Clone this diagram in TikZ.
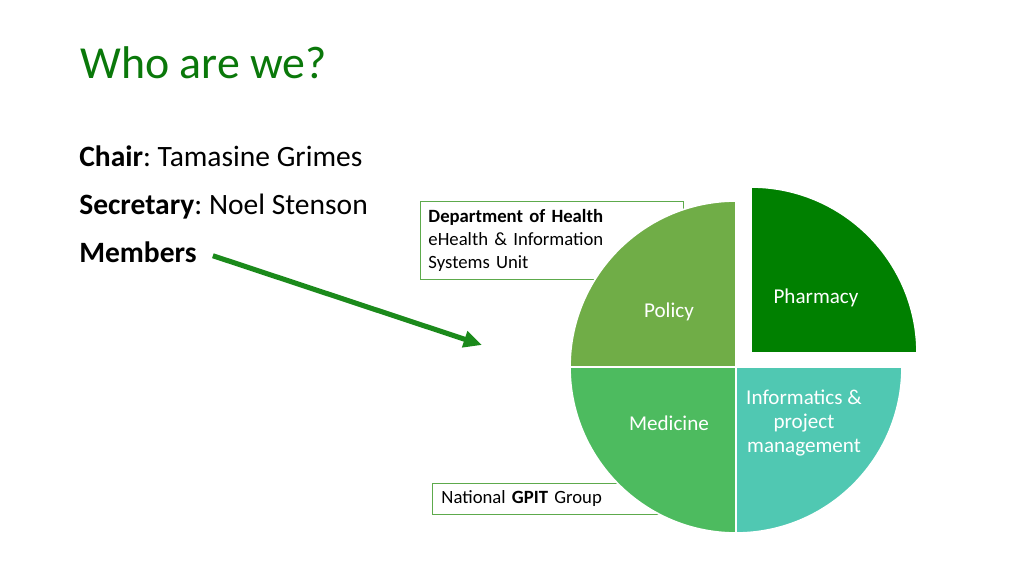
\documentclass[tikz,border=0pt]{standalone}
\usepackage{fontspec}
\setmainfont{Carlito}
\frenchspacing
\definecolor{titlegreen}{HTML}{0A780A}
\definecolor{policy}{HTML}{70AD47}
\definecolor{pharmacy}{HTML}{008000}
\definecolor{medicine}{HTML}{4DBB5F}
\definecolor{informatics}{HTML}{50C8B2}
\definecolor{boxline}{HTML}{5DAA4C}
\definecolor{arrowgreen}{HTML}{1B8A1B}
\usetikzlibrary{arrows.meta,positioning}
\tikzset{
  body/.style={anchor=base west,font=\fontsize{21}{25}\selectfont,inner sep=0pt},
  box/.style={draw=boxline,line width=0.7pt,align=left,anchor=north west,
              font=\fontsize{13.3}{16.5}\selectfont},
  slice/.style={draw=white,line width=1.2pt},
  lbl/.style={text=white,align=center,font=\fontsize{15}{16.8}\selectfont},
  arr/.style={-{Triangle[length=13pt,width=11.5pt]},line width=3.6pt,arrowgreen}
}
\begin{document}
\begin{tikzpicture}[x=0.025cm,y=0.025cm]
  \useasboundingbox (0,0) rectangle (1024,576);
  % heading and list
  \node[anchor=base west,inner sep=0pt,text=titlegreen,font=\fontsize{32.6}{40}\selectfont]
        (title) at (80,497) {Who are we?};
  \node[body] (chair) at (79,409) {\textbf{Chair}: Tamasine Grimes};
  \node[body] (secr)  at (79,361) {\textbf{Secretary}: Noel Stenson};
  \node[body] (memb)  at (79,313) {\textbf{Members}};
  % boxes behind the pie
  \node[box,minimum width=263*0.025cm,minimum height=78*0.025cm,text width=247*0.025cm,
        inner xsep=8*0.025cm] (doh) at (420,375)
        {\textbf{Department of Health}\\eHealth \& Information\\Systems Unit};
  \node[box,minimum width=230*0.025cm,minimum height=31*0.025cm,text width=212*0.025cm,
        inner xsep=9*0.025cm] (gpit) at (432,93) {National \textbf{GPIT} Group};
  % pie
  \fill[policy,slice] (736,209) -- ++(-166,0) arc[start angle=180,end angle=90,radius=166] -- cycle;
  \fill[medicine,slice] (736,209) -- ++(-166,0) arc[start angle=180,end angle=270,radius=166] -- cycle;
  \fill[informatics,slice] (736,209) -- ++(0,-166) arc[start angle=270,end angle=360,radius=166] -- cycle;
  \fill[pharmacy,slice] (751,223) -- ++(0,166) arc[start angle=90,end angle=0,radius=166] -- cycle;
  \node[lbl] (policy) at (669,264) {Policy};
  \node[lbl] (pharm)  at (816,278) {Pharmacy};
  \node[lbl] (med)    at (669,153) {Medicine};
  \node[lbl] (info)   at (804,153) {Informatics \&\\project\\management};
  % arrow
  \coordinate (tip) at (482,231);
  \draw[arr] ([xshift=16*0.025cm,yshift=-3*0.025cm]memb.east) -- (tip);
\end{tikzpicture}
\end{document}
